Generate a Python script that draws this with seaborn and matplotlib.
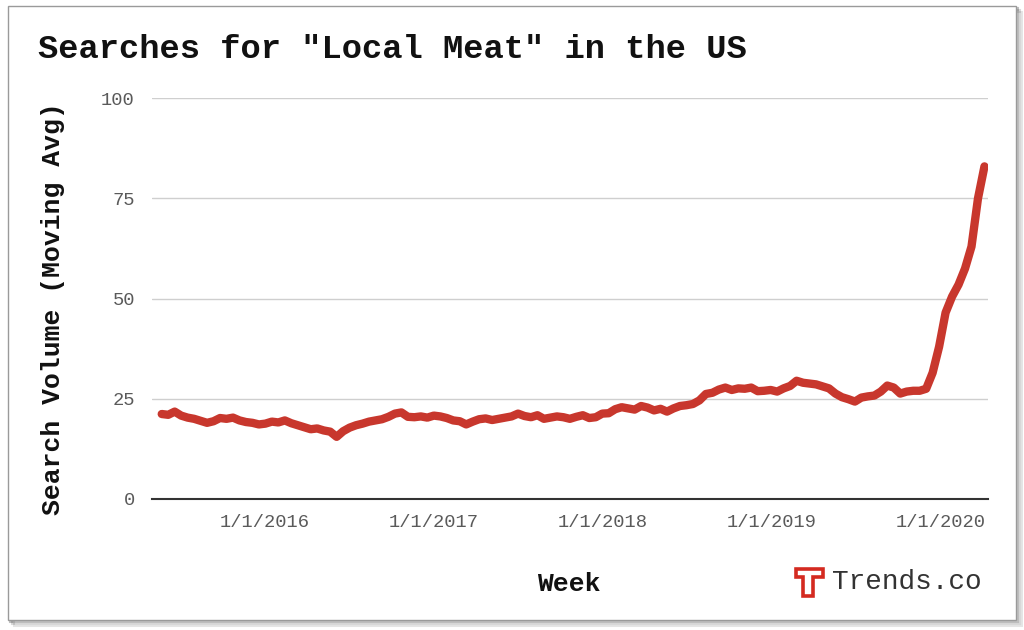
"""Searches for "Local Meat" in the US - weekly moving average line chart."""

import matplotlib
matplotlib.use("Agg")
import matplotlib.pyplot as plt
import matplotlib.patches as mpatches
import seaborn as sns
import pandas as pd

# Data (roughly every two weeks)
start_date = "2015-05-24"
search_volume = [
    21.2, 21.0, 21.8, 20.8, 20.3, 20.0, 19.5, 19.0, 19.4, 20.2,
    20.0, 20.3, 19.6, 19.2, 19.0, 18.6, 18.8, 19.3, 19.1, 19.6,
    18.9, 18.4, 17.9, 17.4, 17.6, 17.1, 16.8, 15.5, 16.9, 17.8,
    18.4, 18.8, 19.3, 19.6, 19.9, 20.5, 21.3, 21.6, 20.5, 20.4,
    20.6, 20.3, 20.8, 20.6, 20.2, 19.6, 19.4, 18.6, 19.3, 19.9,
    20.1, 19.7, 20.0, 20.3, 20.6, 21.3, 20.7, 20.4, 20.9, 20.0,
    20.3, 20.6, 20.4, 20.0, 20.5, 20.9, 20.2, 20.4, 21.3, 21.4,
    22.4, 22.9, 22.6, 22.3, 23.2, 22.8, 22.1, 22.5, 21.8, 22.6,
    23.2, 23.4, 23.7, 24.6, 26.2, 26.5, 27.3, 27.8, 27.2, 27.6,
    27.5, 27.8, 26.9, 27.0, 27.2, 26.8, 27.6, 28.2, 29.5, 29.0,
    28.8, 28.6, 28.1, 27.6, 26.3, 25.4, 24.9, 24.3, 25.3, 25.6,
    25.8, 26.8, 28.3, 27.8, 26.3, 26.8, 27.0, 27.0, 27.5, 31.5,
    38.0, 46.5, 50.5, 53.5, 57.5, 63.0, 75.0, 83.0,
]
weeks = pd.date_range(start_date, periods=len(search_volume), freq="14D")

tick_dates = ["2016-01-01", "2017-01-01", "2018-01-01", "2019-01-01", "2020-01-01"]
tick_labels = ["1/1/2016", "1/1/2017", "1/1/2018", "1/1/2019", "1/1/2020"]
y_ticks = [0, 25, 50, 75, 100]

df = pd.DataFrame({"Week": weeks, "Search Volume": search_volume})

sns.set_style("white")
plt.rcParams["font.family"] = ["Liberation Mono", "DejaVu Sans Mono"]

fig = plt.figure(figsize=(10.24, 6.3), dpi=100)
ax = fig.add_axes([0.148, 0.208, 0.817, 0.636])

# Card border with a soft shadow
for off, alpha in [(0.006, 0.10), (0.004, 0.15), (0.002, 0.25)]:
    fig.patches.append(mpatches.Rectangle((0.008 + off, 0.016 - off * 1.6), 0.984, 0.975,
                                          transform=fig.transFigure, facecolor="none",
                                          edgecolor="#000000", alpha=alpha, lw=1.5, zorder=-2))
fig.patches.append(mpatches.Rectangle((0.008, 0.016), 0.984, 0.975, transform=fig.transFigure,
                                      facecolor="white", edgecolor="#9a9a9a", lw=1.0, zorder=-1))

sns.lineplot(data=df, x="Week", y="Search Volume", ax=ax, color="#c8372d",
             linewidth=6, solid_capstyle="round", solid_joinstyle="round")

ax.set_xlim(pd.Timestamp("2015-05-02"), pd.Timestamp("2020-04-13"))
ax.set_ylim(0, 100)
ax.set_xticks(pd.to_datetime(tick_dates))
ax.set_xticklabels(tick_labels)
ax.set_yticks(y_ticks)
ax.set_yticklabels([str(v) for v in y_ticks])
ax.tick_params(axis="both", length=0, labelsize=13.5, labelcolor="#5a5a5a")
ax.tick_params(axis="x", pad=11)
ax.tick_params(axis="y", pad=12)

ax.grid(True, axis="y", color="#cfcfcf", linewidth=1.0)
ax.grid(False, axis="x")
ax.set_axisbelow(True)
for side in ["top", "right", "left"]:
    ax.spines[side].set_visible(False)
ax.spines["bottom"].set_color("#333333")
ax.spines["bottom"].set_linewidth(1.5)
ax.patch.set_alpha(0)

ax.set_xlabel("")
ax.set_ylabel("Search Volume (Moving Avg)", fontsize=19, fontweight="bold",
              color="#111111")
ax.yaxis.set_label_coords(-0.104, 0.475)

fig.text(0.037, 0.921, 'Searches for "Local Meat" in the US', fontsize=24.3,
         fontweight="bold", color="#111111", va="center", ha="left")
fig.text(0.555, 0.073, "Week", fontsize=19, fontweight="bold", color="#111111",
         va="center", ha="center")

# Trends.co logo
logo_x = [796, 823, 823, 813, 813, 803, 803, 796, 796]
logo_y = [569, 569, 577, 577, 596, 596, 577, 577, 569]
logo = mpatches.Polygon([(x / 1024, 1 - y / 630) for x, y in zip(logo_x, logo_y)],
                        closed=True, transform=fig.transFigure, facecolor="white",
                        edgecolor="#d42a20", lw=2.6, joinstyle="miter")
fig.patches.append(logo)
fig.text(0.886, 0.076, "Trends.co", fontsize=20, color="#333333", va="center", ha="center")

fig.savefig("out.png", dpi=100)
